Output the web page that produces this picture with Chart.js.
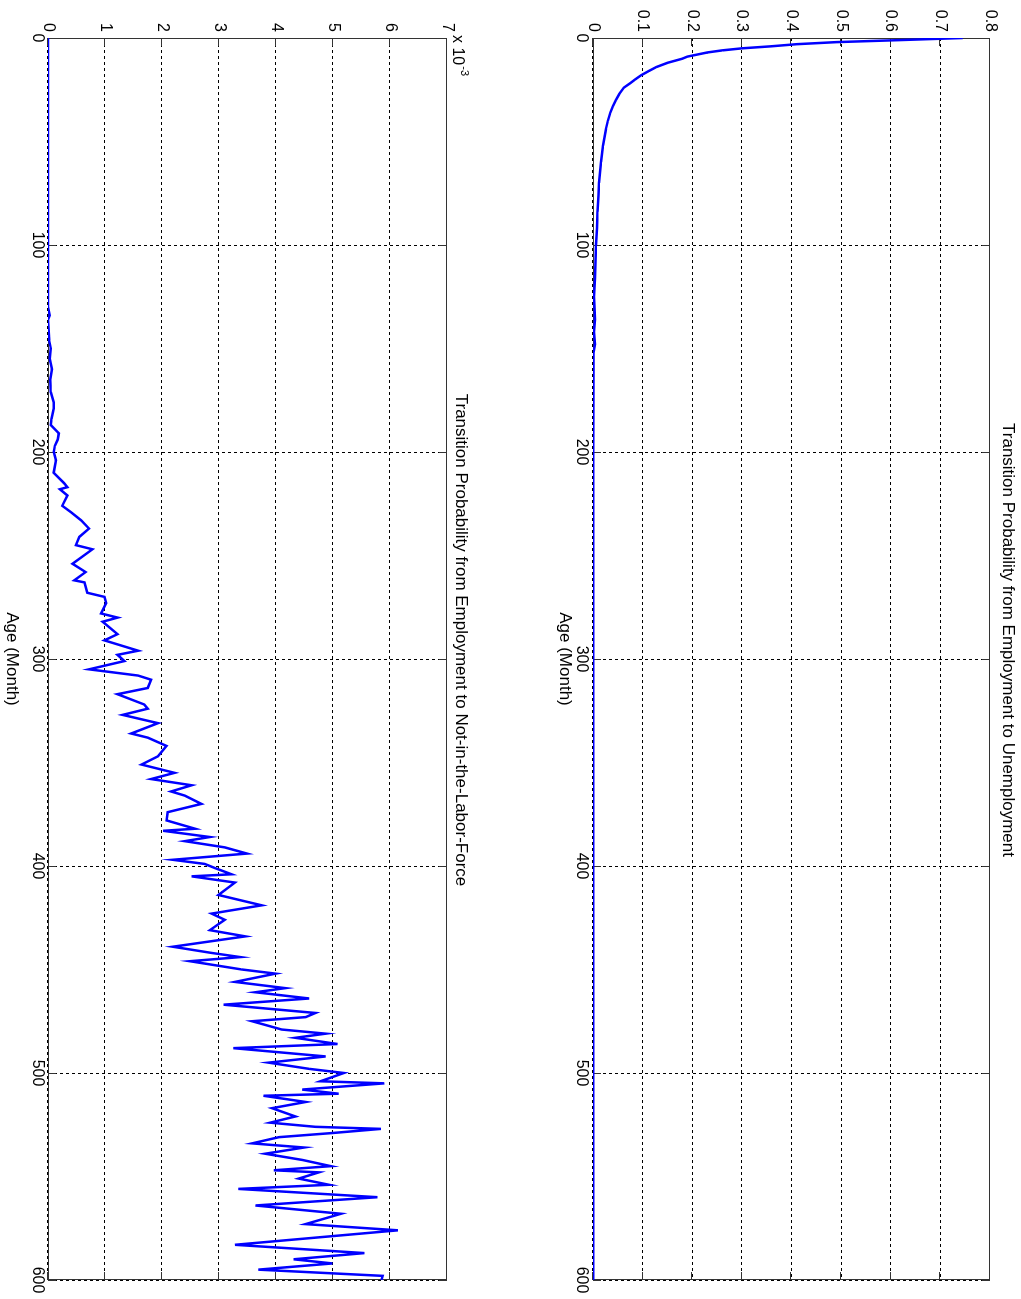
<!DOCTYPE html>
<html>
<head>
<meta charset="utf-8">
<title>Transition Probabilities by Age</title>
<script src="https://cdn.jsdelivr.net/npm/chart.js@4.4.1/dist/chart.umd.min.js"></script>
<style>
    body { margin: 0; background: #fff; overflow: hidden; width: 1021px; height: 1299px; }
    /* the figure is drawn landscape and turned a quarter clockwise, like the scanned page */
    #figure { position: absolute; left: 0; top: 0; width: 1299px; height: 1021px;
              transform-origin: 0 0; transform: translate(1021px, 0) rotate(90deg); background: #fff; }
    #unempChart { position: absolute; left: 0; top: 0; }
    #nlfChart { position: absolute; left: 0; top: 530px; }
</style>
</head>
<body>
<div id="figure">
    <canvas id="unempChart" width="1299" height="470"></canvas>
    <canvas id="nlfChart" width="1299" height="491"></canvas>
</div>
<script>
// Tick labels
const ageTicks = [0, 100, 200, 300, 400, 500, 600];
const unempTicks = [0, 0.1, 0.2, 0.3, 0.4, 0.5, 0.6, 0.7, 0.8];
const unempTickLabels = ['0', '0.1', '0.2', '0.3', '0.4', '0.5', '0.6', '0.7', '0.8'];
const nlfTicks = [0, 1, 2, 3, 4, 5, 6, 7];          // units of 10^-3
const nlfTickLabels = ['0', '1', '2', '3', '4', '5', '6', '7'];

// Employment -> Unemployment (probability)
const unempAges = [0, 1, 2, 3, 4, 5, 6, 7, 8, 9, 10, 12, 14, 16, 18, 20, 22, 24, 27, 30,
    33, 36, 40, 44, 48, 52, 56, 60, 65, 70, 76, 84, 92, 100, 108, 116, 125, 130, 136, 142,
    148, 152, 160, 200, 250, 300, 350, 400, 450, 500, 550, 600];
const unempValues = [0.745, 0.62, 0.49, 0.41, 0.36, 0.30, 0.26, 0.23, 0.21, 0.19, 0.18, 0.15,
    0.128, 0.112, 0.097, 0.085, 0.074, 0.062, 0.053, 0.046, 0.04, 0.035, 0.03, 0.026, 0.023,
    0.02, 0.018, 0.016, 0.014, 0.012, 0.011, 0.009, 0.008, 0.006, 0.005, 0.004, 0.002, 0.003,
    0.004, 0.002, 0.004, 0.001, 0.0008, 0.0005, 0.0004, 0.0004, 0.0003, 0.0003, 0.0003,
    0.0003, 0.0003, 0.0003];

// Employment -> Not-in-the-Labor-Force (units of 10^-3)
const nlfAges = [0, 130, 134, 136, 146, 150, 155, 160, 165, 171, 176, 179, 184, 187, 191, 194,
    197, 200, 204, 210, 215, 217, 218, 221, 226, 229, 233, 237, 241, 245, 247, 254, 258, 262,
    263, 268, 270, 273, 278, 280, 282, 288, 291, 296, 298, 301, 305, 308, 310, 314, 317, 322,
    324, 327, 331, 336, 338, 342, 347, 351, 355, 358, 361, 364, 366, 370, 374, 378, 382, 383,
    386, 388, 391, 394, 397, 399, 401, 404, 405, 408, 414, 419, 423, 426, 431, 434, 439, 442,
    444, 446, 450, 452, 456, 459, 461, 464, 467, 471, 473, 475, 479, 481, 483, 486, 488, 492,
    495, 498, 500, 504, 505, 508, 510, 511, 514, 517, 521, 524, 526, 527, 529, 531, 534, 536,
    539, 542, 545, 547, 548, 551, 554, 556, 560, 564, 568, 573, 576, 583, 587, 590, 592, 595,
    598, 600];
const nlfValues = [0, 0, 0.03, 0, 0.02, 0.05, 0.03, 0.07, 0.04, 0.05, 0.1, 0.1, 0.06, 0.05, 0.19,
    0.17, 0.12, 0.1, 0.14, 0.1, 0.28, 0.34, 0.21, 0.34, 0.25, 0.4, 0.58, 0.72, 0.55, 0.49, 0.78,
    0.43, 0.66, 0.46, 0.64, 0.69, 0.99, 1.02, 0.93, 1.22, 0.96, 1.22, 0.99, 1.58, 1.22, 1.34,
    0.72, 1.58, 1.81, 1.75, 1.22, 1.69, 1.75, 1.31, 1.93, 1.46, 1.75, 2.08, 1.93, 1.64, 2.22,
    1.81, 2.52, 2.16, 2.4, 2.69, 2.1, 2.08, 2.58, 2.02, 2.84, 2.4, 3.1, 3.49, 2.19, 2.75, 2.93,
    3.22, 2.52, 3.28, 2.99, 3.75, 2.87, 3.1, 2.84, 3.46, 2.19, 2.87, 3.37, 2.49, 3.4, 3.99,
    3.28, 4.16, 3.64, 4.58, 3.08, 4.69, 4.52, 3.58, 4.1, 4.87, 4.34, 5.08, 3.25, 4.87, 3.87,
    4.58, 5.19, 4.78, 5.9, 4.46, 5.1, 3.78, 4.52, 3.93, 4.34, 3.9, 4.69, 5.84, 4.99, 4.05,
    3.58, 4.49, 3.81, 4.46, 4.96, 3.96, 4.75, 4.4, 4.93, 3.34, 5.78, 3.64, 5.14, 4.52, 6.14,
    3.28, 5.55, 4.31, 4.99, 3.69, 5.87, 5.85];

const FONT = "'Liberation Sans', Arial, Helvetica, sans-serif";
Chart.defaults.font.family = FONT;
Chart.defaults.color = '#000';

function toPoints(xs, ys) {
    return xs.map((x, i) => ({ x: x, y: ys[i] }));
}

// Box round the plot area with small inward ticks, plus the exponent note
const framePlugin = {
    id: 'frame',
    beforeDatasetsDraw(chart) {
        const { ctx, chartArea: a, scales } = chart;
        ctx.save();
        ctx.strokeStyle = '#333';
        ctx.lineWidth = 1;
        ctx.strokeRect(Math.round(a.left) + 0.5, Math.round(a.top) + 0.5,
            Math.round(a.right - a.left) - 1, Math.round(a.bottom - a.top) - 1);
        ctx.beginPath();
        scales.x.ticks.forEach(t => {
            const px = Math.round(scales.x.getPixelForValue(t.value)) + 0.5;
            ctx.moveTo(px, a.top); ctx.lineTo(px, a.top + 8);
            ctx.moveTo(px, a.bottom); ctx.lineTo(px, a.bottom - 8);
        });
        scales.y.ticks.forEach(t => {
            const py = Math.round(scales.y.getPixelForValue(t.value)) + 0.5;
            ctx.moveTo(a.left, py); ctx.lineTo(a.left + 8, py);
            ctx.moveTo(a.right, py); ctx.lineTo(a.right - 8, py);
        });
        ctx.stroke();
        ctx.restore();
    },
    afterDraw(chart, args, opts) {
        if (!opts.exponent) return;
        const { ctx, chartArea: a } = chart;
        ctx.save();
        ctx.fillStyle = '#000';
        ctx.textAlign = 'left';
        ctx.textBaseline = 'middle';
        ctx.font = '16px ' + FONT;
        ctx.fillText('x 10', 35, a.top - 10);
        const w = ctx.measureText('x 10').width;
        ctx.font = '11px ' + FONT;
        ctx.fillText(opts.exponent, 35 + w + 1, a.top - 17);
        ctx.restore();
    }
};

function buildConfig(points, yTicks, yLabels, titleText, lay) {
    return {
        type: 'scatter',
        data: {
            datasets: [{
                data: points,
                showLine: true,
                borderColor: '#0000ff',
                borderWidth: 2.5,
                pointRadius: 0,
                tension: 0,
                fill: false
            }]
        },
        options: {
            responsive: false,
            animation: false,
            events: [],
            layout: { padding: { left: 0, right: 19, top: 0, bottom: 0 } },
            plugins: {
                legend: { display: false },
                tooltip: { enabled: false },
                title: {
                    display: true,
                    text: titleText,
                    color: '#000',
                    font: { size: 17, weight: 'normal' },
                    padding: { top: lay.titleTop, bottom: lay.titleBottom }
                },
                frame: { exponent: lay.exponent }
            },
            scales: {
                x: {
                    type: 'linear',
                    min: 0,
                    max: 600,
                    afterBuildTicks: s => { s.ticks = ageTicks.map(v => ({ value: v })); },
                    afterFit: s => { s.height = lay.xHeight; },
                    ticks: { padding: lay.xTickPad, font: { size: 16 }, color: '#000',
                             callback: v => String(v) },
                    grid: { color: '#000', lineWidth: 1, drawTicks: false },
                    border: { display: false, dash: [3, 3] },
                    title: { display: true, text: 'Age (Month)', color: '#000',
                             font: { size: 17 }, padding: { top: 0, bottom: lay.xTitlePad } }
                },
                y: {
                    type: 'linear',
                    min: 0,
                    max: yTicks[yTicks.length - 1],
                    afterBuildTicks: s => { s.ticks = yTicks.map(v => ({ value: v })); },
                    afterFit: s => { s.width = 38; },
                    ticks: { padding: 6, font: { size: 16 }, color: '#000',
                             callback: (v, i) => yLabels[i] },
                    grid: { color: '#000', lineWidth: 1, drawTicks: false },
                    border: { display: false, dash: [3, 3] }
                }
            }
        },
        plugins: [framePlugin]
    };
}

new Chart(document.getElementById('unempChart'), buildConfig(
    toPoints(unempAges, unempValues), unempTicks, unempTickLabels,
    'Transition Probability from Employment to Unemployment',
    { titleTop: 3, titleBottom: 7.6, xHeight: 42, xTickPad: 2, xTitlePad: 3 }
));

new Chart(document.getElementById('nlfChart'), buildConfig(
    toPoints(nlfAges, nlfValues), nlfTicks, nlfTickLabels,
    'Transition Probability from Employment to Not-in-the-Labor-Force',
    { titleTop: 19.8, titleBottom: 3.8, xHeight: 48, xTickPad: 1, xTitlePad: 1.3, exponent: '-3' }
));
</script>
</body>
</html>
